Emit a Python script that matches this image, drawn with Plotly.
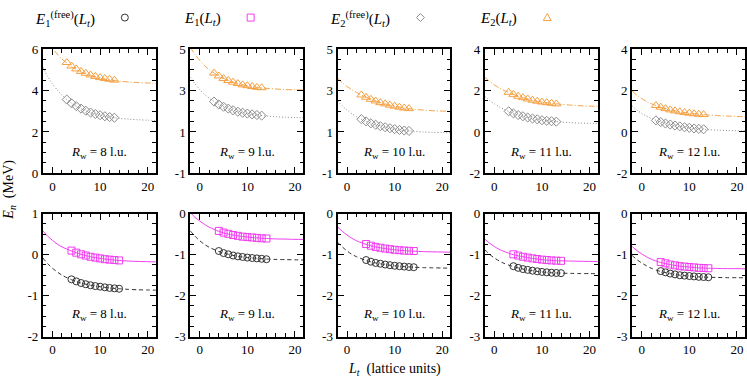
import plotly.graph_objects as go

# ---------------- data ----------------
RW_LABELS = ["8", "9", "10", "11", "12"]
LT_TOP = [3, 4, 5, 6, 7, 8, 9, 10, 11, 12, 13]
LT_BOT = [4, 5, 6, 7, 8, 9, 10, 11, 12, 13, 14]
LT_CURVE = [-2, -1, 0, 1, 2, 4, 6, 8, 10, 12, 14, 16, 18, 20, 22]

# top row: E2 (triangles) and E2 free (diamonds)
E2_PTS = [
    [5.36, 5.19, 5.05, 4.93, 4.84, 4.76, 4.69, 4.63, 4.59, 4.55, 4.51],
    [3.85, 3.71, 3.59, 3.49, 3.41, 3.34, 3.28, 3.24, 3.20, 3.16, 3.14],
    [2.79, 2.68, 2.58, 2.50, 2.42, 2.36, 2.30, 2.25, 2.20, 2.16, 2.13],
    [1.92, 1.82, 1.73, 1.66, 1.60, 1.54, 1.49, 1.45, 1.42, 1.39, 1.36],
    [1.28, 1.20, 1.13, 1.07, 1.02, 0.98, 0.94, 0.91, 0.88, 0.86, 0.84],
]
E2_FIT = [
    [6.82, 6.41, 6.06, 5.77, 5.53, 5.16, 4.90, 4.73, 4.60, 4.52, 4.46, 4.42, 4.39, 4.37, 4.35],
    [5.10, 4.75, 4.46, 4.22, 4.01, 3.71, 3.49, 3.34, 3.24, 3.16, 3.11, 3.08, 3.05, 3.04, 3.03],
    [3.60, 3.38, 3.20, 3.05, 2.91, 2.68, 2.50, 2.36, 2.25, 2.16, 2.10, 2.06, 2.03, 2.01, 2.00],
    [2.65, 2.45, 2.28, 2.13, 2.01, 1.82, 1.66, 1.54, 1.45, 1.39, 1.34, 1.30, 1.27, 1.25, 1.24],
    [1.98, 1.78, 1.62, 1.48, 1.37, 1.20, 1.07, 0.98, 0.91, 0.86, 0.82, 0.79, 0.77, 0.75, 0.74],
]
E2F_PTS = [
    [3.57, 3.39, 3.25, 3.13, 3.03, 2.94, 2.87, 2.81, 2.76, 2.72, 2.69],
    [2.47, 2.33, 2.22, 2.13, 2.05, 1.98, 1.93, 1.89, 1.85, 1.82, 1.79],
    [1.62, 1.51, 1.42, 1.35, 1.28, 1.23, 1.18, 1.14, 1.10, 1.07, 1.05],
    [1.00, 0.90, 0.82, 0.76, 0.70, 0.65, 0.61, 0.57, 0.54, 0.52, 0.50],
    [0.56, 0.48, 0.41, 0.36, 0.31, 0.27, 0.23, 0.20, 0.17, 0.15, 0.13],
]
E2F_FIT = [
    [5.12, 4.69, 4.33, 4.03, 3.78, 3.39, 3.13, 2.94, 2.81, 2.72, 2.66, 2.62, 2.59, 2.57, 2.55],
    [3.66, 3.33, 3.05, 2.82, 2.63, 2.33, 2.13, 1.98, 1.89, 1.82, 1.77, 1.74, 1.71, 1.70, 1.69],
    [2.50, 2.26, 2.06, 1.89, 1.74, 1.51, 1.35, 1.23, 1.14, 1.07, 1.03, 1.00, 0.98, 0.97, 0.96],
    [1.72, 1.52, 1.36, 1.22, 1.10, 0.90, 0.76, 0.65, 0.57, 0.52, 0.48, 0.45, 0.43, 0.42, 0.41],
    [1.26, 1.06, 0.90, 0.77, 0.66, 0.48, 0.36, 0.27, 0.20, 0.15, 0.11, 0.09, 0.07, 0.06, 0.05],
]
# bottom row: E1 (squares) and E1 free (circles)
E1_PTS = [
    [0.10, 0.05, 0.01, -0.02, -0.05, -0.07, -0.09, -0.11, -0.12, -0.13, -0.14],
    [-0.42, -0.46, -0.49, -0.52, -0.54, -0.56, -0.57, -0.58, -0.59, -0.60, -0.605],
    [-0.74, -0.78, -0.81, -0.83, -0.85, -0.865, -0.88, -0.89, -0.90, -0.905, -0.91],
    [-0.99, -1.02, -1.05, -1.07, -1.09, -1.105, -1.12, -1.13, -1.14, -1.145, -1.15],
    [-1.18, -1.21, -1.24, -1.26, -1.28, -1.29, -1.30, -1.31, -1.32, -1.325, -1.33],
]
E1_FIT = [
    [0.58, 0.45, 0.35, 0.26, 0.19, 0.09, 0.01, -0.05, -0.09, -0.12, -0.14, -0.155, -0.165, -0.17, -0.175],
    [0.03, -0.09, -0.18, -0.26, -0.33, -0.43, -0.50, -0.54, -0.57, -0.59, -0.605, -0.615, -0.62, -0.625, -0.63],
    [-0.32, -0.43, -0.52, -0.60, -0.66, -0.75, -0.81, -0.85, -0.88, -0.90, -0.915, -0.925, -0.93, -0.935, -0.94],
    [-0.62, -0.72, -0.80, -0.87, -0.92, -1.00, -1.05, -1.09, -1.12, -1.14, -1.15, -1.155, -1.16, -1.165, -1.17],
    [-0.80, -0.90, -0.98, -1.05, -1.11, -1.19, -1.24, -1.28, -1.30, -1.32, -1.33, -1.335, -1.34, -1.34, -1.345],
]
E1F_PTS = [
    [-0.60, -0.65, -0.69, -0.72, -0.745, -0.765, -0.78, -0.795, -0.81, -0.82, -0.83],
    [-0.91, -0.96, -0.99, -1.02, -1.04, -1.055, -1.07, -1.08, -1.09, -1.10, -1.11],
    [-1.13, -1.17, -1.20, -1.22, -1.24, -1.255, -1.27, -1.28, -1.29, -1.30, -1.305],
    [-1.28, -1.32, -1.35, -1.37, -1.39, -1.405, -1.42, -1.43, -1.44, -1.445, -1.45],
    [-1.40, -1.43, -1.46, -1.48, -1.50, -1.51, -1.52, -1.53, -1.54, -1.545, -1.55],
]
E1F_FIT = [
    [-0.08, -0.22, -0.33, -0.42, -0.50, -0.61, -0.69, -0.745, -0.78, -0.81, -0.83, -0.845, -0.855, -0.86, -0.865],
    [-0.42, -0.55, -0.66, -0.75, -0.82, -0.92, -0.99, -1.04, -1.07, -1.09, -1.105, -1.115, -1.12, -1.125, -1.13],
    [-0.70, -0.81, -0.91, -0.99, -1.05, -1.14, -1.20, -1.24, -1.27, -1.29, -1.305, -1.315, -1.32, -1.325, -1.33],
    [-0.88, -0.99, -1.08, -1.15, -1.21, -1.29, -1.35, -1.39, -1.42, -1.44, -1.45, -1.455, -1.46, -1.46, -1.465],
    [-1.02, -1.12, -1.20, -1.27, -1.33, -1.41, -1.46, -1.50, -1.52, -1.54, -1.55, -1.555, -1.56, -1.56, -1.565],
]

TOP_YRANGE = [[0, 6], [-1, 5], [-1, 5], [-2, 4], [-2, 4]]
TOP_YTICKS = [[0, 2, 4, 6], [-1, 1, 3, 5], [-1, 1, 3, 5], [-2, 0, 2, 4], [-2, 0, 2, 4]]
BOT_YRANGE = [[-2, 1], [-3, 0], [-3, 0], [-3, 0], [-3, 0]]
BOT_YTICKS = [[-2, -1, 0, 1], [-3, -2, -1, 0], [-3, -2, -1, 0], [-3, -2, -1, 0], [-3, -2, -1, 0]]
X_TICKS = [0, 10, 20]

# ---------------- style ----------------
W, H = 747, 388
FONT = "'Liberation Serif', 'Times New Roman', 'DejaVu Serif', serif"
C_ORANGE = "#f5a042"
C_GRAY = "#8c8c8c"
C_MAG = "#f03cf0"
C_BLACK = "#333333"
COL_LEFT = [43, 190.5, 338, 485.5, 633]
PANEL_W = 113
TOP_Y = (44, 173)
BOT_Y = (215, 343)


def lab(v):
    return str(v).replace("\u2212", "-")


fig = go.Figure()
layout = dict(
    width=W, height=H, margin=dict(l=0, r=0, t=0, b=0),
    paper_bgcolor="white", plot_bgcolor="white", showlegend=False,
    font=dict(family=FONT, size=13, color="black"),
)
annotations = []
shapes = []

idx = 0
for row in range(2):
    for col in range(5):
        idx += 1
        xa = "x" if idx == 1 else f"x{idx}"
        ya = "y" if idx == 1 else f"y{idx}"
        xkey = "xaxis" if idx == 1 else f"xaxis{idx}"
        ykey = "yaxis" if idx == 1 else f"yaxis{idx}"
        py0, py1 = TOP_Y if row == 0 else BOT_Y
        xl = COL_LEFT[col]
        layout[xkey] = dict(
            domain=[xl / W, min(1, (xl + PANEL_W) / W)], anchor=ya,
            range=[-2, 21.7], tickmode="array", tickvals=X_TICKS,
            ticktext=[lab(v) for v in X_TICKS],
            showline=True, linewidth=2, linecolor="black", mirror="allticks",
            ticks="inside", ticklen=6, tickwidth=1.2, tickcolor="black",
            minor=dict(dtick=2, tick0=0, ticks="inside", ticklen=3.5, tickcolor="black", tickwidth=1.2),
            showgrid=False, zeroline=False, tickfont=dict(size=13, family=FONT, color="black"),
        )
        if row == 0:
            yr, yt = TOP_YRANGE[col], TOP_YTICKS[col]
            mdt = 0.5
        else:
            yr, yt = BOT_YRANGE[col], BOT_YTICKS[col]
            mdt = 0.25
        layout[ykey] = dict(
            domain=[1 - py1 / H, 1 - py0 / H], anchor=xa,
            range=yr, tickmode="array", tickvals=yt, ticktext=[lab(v) for v in yt],
            showline=True, linewidth=2, linecolor="black", mirror="allticks",
            ticks="inside", ticklen=6, tickwidth=1.2, tickcolor="black",
            minor=dict(dtick=mdt, tick0=0, ticks="inside", ticklen=3.5, tickcolor="black", tickwidth=1.2),
            showgrid=False, zeroline=False, tickfont=dict(size=13, family=FONT, color="black"),
        )
        if row == 0:
            series = [
                (E2F_FIT[col], E2F_PTS[col], C_GRAY, "1px,2px", "diamond-open", LT_TOP, 7),
                (E2_FIT[col], E2_PTS[col], C_ORANGE, "6px,2px,1px,2px", "triangle-up-open", LT_TOP, 8),
            ]
        else:
            series = [
                (E1F_FIT[col], E1F_PTS[col], C_BLACK, "4px,3px", "circle-open", LT_BOT, 7),
                (E1_FIT[col], E1_PTS[col], C_MAG, "solid", "square-open", LT_BOT, 7),
            ]
        for fit, pts, color, dash, sym, lt, ms in series:
            fig.add_trace(go.Scatter(
                x=LT_CURVE, y=fit, mode="lines", xaxis=xa, yaxis=ya,
                line=dict(color=color, width=1, dash=dash, shape="spline", smoothing=0.8),
                hoverinfo="skip",
            ))
            fig.add_trace(go.Scatter(
                x=lt, y=pts, mode="markers", xaxis=xa, yaxis=ya,
                marker=dict(symbol=sym, size=ms, color=color, line=dict(width=1, color=color)),
                cliponaxis=False,
            ))
        annotations.append(dict(
            text=f"<i>R</i><sub>w</sub> = {RW_LABELS[col]} l.u.",
            xref=f"{xa} domain", yref=f"{ya} domain", x=0.5, y=0.17 if row == 0 else 0.18,
            showarrow=False, font=dict(size=13, family=FONT, color="black"), xanchor="center", yanchor="middle",
        ))

# axis titles
annotations.append(dict(
    text="<i>E<sub>n</sub></i>  (MeV)", xref="paper", yref="paper", x=10 / W, y=1 - 190 / H,
    textangle=-90, showarrow=False, font=dict(size=14, family=FONT, color="black"),
    xanchor="center", yanchor="middle",
))
annotations.append(dict(
    text="<i>L<sub>t</sub></i>  (lattice units)", xref="paper", yref="paper", x=395 / W, y=1 - 377 / H,
    showarrow=False, font=dict(size=14, family=FONT, color="black"), xanchor="center", yanchor="middle",
))

# legend (gnuplot-style key: text then sample)
LEG_TEXT = [
    "<i>E</i><sub>1</sub><sup>(free)</sup>(<i>L<sub>t</sub></i>)",
    "<i>E</i><sub>1</sub>(<i>L<sub>t</sub></i>)",
    "<i>E</i><sub>2</sub><sup>(free)</sup>(<i>L<sub>t</sub></i>)",
    "<i>E</i><sub>2</sub>(<i>L<sub>t</sub></i>)",
]
LEG_TEXT_RIGHT = [97, 223, 393, 520]
LEG_MARK_X = [125, 251, 421, 548]
LEG_COLORS = [C_BLACK, C_MAG, C_GRAY, C_ORANGE]
LEG_Y = 13
for i in range(4):
    annotations.append(dict(
        text=LEG_TEXT[i], xref="paper", yref="paper", x=LEG_TEXT_RIGHT[i] / W, y=1 - LEG_Y / H,
        showarrow=False, font=dict(size=15, family=FONT, color="black"), xanchor="right", yanchor="middle",
    ))
mk = dict(xref="paper", yref="paper", xsizemode="pixel", ysizemode="pixel")
shapes.append(dict(type="circle", xanchor=LEG_MARK_X[0] / W, yanchor=1 - 11 / H, x0=-3.5, x1=3.5, y0=-3.5, y1=3.5,
                   line=dict(color=LEG_COLORS[0], width=1), **mk))
shapes.append(dict(type="rect", xanchor=LEG_MARK_X[1] / W, yanchor=1 - 11 / H, x0=-3.5, x1=3.5, y0=-3.5, y1=3.5,
                   line=dict(color=LEG_COLORS[1], width=1), **mk))
shapes.append(dict(type="path", xanchor=LEG_MARK_X[2] / W, yanchor=1 - 11 / H, path="M-4,0 L0,4 L4,0 L0,-4 Z",
                   line=dict(color=LEG_COLORS[2], width=1), **mk))
shapes.append(dict(type="path", xanchor=LEG_MARK_X[3] / W, yanchor=1 - 11 / H, path="M-4,-3 L4,-3 L0,4 Z",
                   line=dict(color=LEG_COLORS[3], width=1), **mk))

layout["annotations"] = annotations
layout["shapes"] = shapes
fig.update_layout(**layout)
fig.write_html(
    "out.html",
    config={"displayModeBar": False, "staticPlot": False},
    post_script="document.body.style.margin='0';document.body.style.overflow='hidden';",
)
